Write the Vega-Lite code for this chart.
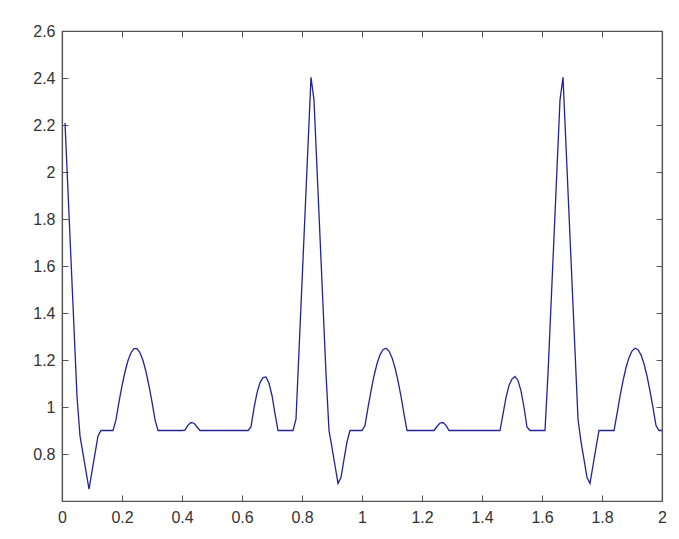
{
  "$schema": "https://vega.github.io/schema/vega-lite/v6.json",
  "width": 600,
  "height": 470,
  "autosize": "none",
  "padding": {"left": 62, "top": 31, "right": 17, "bottom": 38},
  "background": "white",
  "config": {
    "view": {"stroke": "#555555", "strokeWidth": 1.2},
    "axis": {
      "grid": false,
      "domainColor": "#555555",
      "domainWidth": 1.2,
      "tickColor": "#555555",
      "tickSize": -6,
      "labelFont": "Liberation Sans",
      "labelFontSize": 16,
      "labelColor": "#333333",
      "labelFlush": false,
      "labelOverlap": false,
      "title": null
    }
  },
  "data": {
    "values": [
      {"t": 0.01, "v": 2.209}, {"t": 0.02, "v": 1.918}, {"t": 0.03, "v": 1.627}, {"t": 0.04, "v": 1.336}, {"t": 0.05, "v": 1.045},
      {"t": 0.06, "v": 0.877}, {"t": 0.07, "v": 0.802}, {"t": 0.08, "v": 0.726}, {"t": 0.09, "v": 0.65}, {"t": 0.10, "v": 0.726},
      {"t": 0.11, "v": 0.802}, {"t": 0.12, "v": 0.877}, {"t": 0.13, "v": 0.9}, {"t": 0.14, "v": 0.9}, {"t": 0.15, "v": 0.9},
      {"t": 0.16, "v": 0.9}, {"t": 0.17, "v": 0.9}, {"t": 0.18, "v": 0.946}, {"t": 0.19, "v": 1.022}, {"t": 0.20, "v": 1.09},
      {"t": 0.21, "v": 1.15}, {"t": 0.22, "v": 1.198}, {"t": 0.23, "v": 1.231}, {"t": 0.24, "v": 1.248}, {"t": 0.25, "v": 1.248},
      {"t": 0.26, "v": 1.231}, {"t": 0.27, "v": 1.198}, {"t": 0.28, "v": 1.15}, {"t": 0.29, "v": 1.09}, {"t": 0.30, "v": 1.022},
      {"t": 0.31, "v": 0.946}, {"t": 0.32, "v": 0.9}, {"t": 0.33, "v": 0.9}, {"t": 0.34, "v": 0.9}, {"t": 0.35, "v": 0.9},
      {"t": 0.36, "v": 0.9}, {"t": 0.37, "v": 0.9}, {"t": 0.38, "v": 0.9}, {"t": 0.39, "v": 0.9}, {"t": 0.40, "v": 0.9},
      {"t": 0.41, "v": 0.902}, {"t": 0.42, "v": 0.923}, {"t": 0.43, "v": 0.934}, {"t": 0.44, "v": 0.931}, {"t": 0.45, "v": 0.915},
      {"t": 0.46, "v": 0.9}, {"t": 0.47, "v": 0.9}, {"t": 0.48, "v": 0.9}, {"t": 0.49, "v": 0.9}, {"t": 0.50, "v": 0.9},
      {"t": 0.51, "v": 0.9}, {"t": 0.52, "v": 0.9}, {"t": 0.53, "v": 0.9}, {"t": 0.54, "v": 0.9}, {"t": 0.55, "v": 0.9},
      {"t": 0.56, "v": 0.9}, {"t": 0.57, "v": 0.9}, {"t": 0.58, "v": 0.9}, {"t": 0.59, "v": 0.9}, {"t": 0.60, "v": 0.9},
      {"t": 0.61, "v": 0.9}, {"t": 0.62, "v": 0.9}, {"t": 0.63, "v": 0.915}, {"t": 0.64, "v": 0.995}, {"t": 0.65, "v": 1.06},
      {"t": 0.66, "v": 1.104}, {"t": 0.67, "v": 1.125}, {"t": 0.68, "v": 1.128}, {"t": 0.69, "v": 1.101}, {"t": 0.70, "v": 1.049},
      {"t": 0.71, "v": 0.972}, {"t": 0.72, "v": 0.9}, {"t": 0.73, "v": 0.9}, {"t": 0.74, "v": 0.9}, {"t": 0.75, "v": 0.9},
      {"t": 0.76, "v": 0.9}, {"t": 0.77, "v": 0.9}, {"t": 0.78, "v": 0.948}, {"t": 0.79, "v": 1.239}, {"t": 0.80, "v": 1.53},
      {"t": 0.81, "v": 1.821}, {"t": 0.82, "v": 2.112}, {"t": 0.83, "v": 2.403}, {"t": 0.84, "v": 2.306}, {"t": 0.85, "v": 2.015},
      {"t": 0.86, "v": 1.724}, {"t": 0.87, "v": 1.433}, {"t": 0.88, "v": 1.142}, {"t": 0.89, "v": 0.9}, {"t": 0.90, "v": 0.827},
      {"t": 0.91, "v": 0.751}, {"t": 0.92, "v": 0.675}, {"t": 0.93, "v": 0.7}, {"t": 0.94, "v": 0.777}, {"t": 0.95, "v": 0.852},
      {"t": 0.96, "v": 0.9}, {"t": 0.97, "v": 0.9}, {"t": 0.98, "v": 0.9}, {"t": 0.99, "v": 0.9}, {"t": 1.00, "v": 0.9},
      {"t": 1.01, "v": 0.921}, {"t": 1.02, "v": 0.997}, {"t": 1.03, "v": 1.068}, {"t": 1.04, "v": 1.132}, {"t": 1.05, "v": 1.184},
      {"t": 1.06, "v": 1.222}, {"t": 1.07, "v": 1.244}, {"t": 1.08, "v": 1.25}, {"t": 1.09, "v": 1.238}, {"t": 1.10, "v": 1.21},
      {"t": 1.11, "v": 1.167}, {"t": 1.12, "v": 1.111}, {"t": 1.13, "v": 1.045}, {"t": 1.14, "v": 0.971}, {"t": 1.15, "v": 0.9},
      {"t": 1.16, "v": 0.9}, {"t": 1.17, "v": 0.9}, {"t": 1.18, "v": 0.9}, {"t": 1.19, "v": 0.9}, {"t": 1.20, "v": 0.9},
      {"t": 1.21, "v": 0.9}, {"t": 1.22, "v": 0.9}, {"t": 1.23, "v": 0.9}, {"t": 1.24, "v": 0.9}, {"t": 1.25, "v": 0.917},
      {"t": 1.26, "v": 0.932}, {"t": 1.27, "v": 0.934}, {"t": 1.28, "v": 0.922}, {"t": 1.29, "v": 0.9}, {"t": 1.30, "v": 0.9},
      {"t": 1.31, "v": 0.9}, {"t": 1.32, "v": 0.9}, {"t": 1.33, "v": 0.9}, {"t": 1.34, "v": 0.9}, {"t": 1.35, "v": 0.9},
      {"t": 1.36, "v": 0.9}, {"t": 1.37, "v": 0.9}, {"t": 1.38, "v": 0.9}, {"t": 1.39, "v": 0.9}, {"t": 1.40, "v": 0.9},
      {"t": 1.41, "v": 0.9}, {"t": 1.42, "v": 0.9}, {"t": 1.43, "v": 0.9}, {"t": 1.44, "v": 0.9}, {"t": 1.45, "v": 0.9},
      {"t": 1.46, "v": 0.9}, {"t": 1.47, "v": 0.97}, {"t": 1.48, "v": 1.04}, {"t": 1.49, "v": 1.092}, {"t": 1.50, "v": 1.119},
      {"t": 1.51, "v": 1.13}, {"t": 1.52, "v": 1.113}, {"t": 1.53, "v": 1.069}, {"t": 1.54, "v": 0.999}, {"t": 1.55, "v": 0.915},
      {"t": 1.56, "v": 0.9}, {"t": 1.57, "v": 0.9}, {"t": 1.58, "v": 0.9}, {"t": 1.59, "v": 0.9}, {"t": 1.60, "v": 0.9},
      {"t": 1.61, "v": 0.9}, {"t": 1.62, "v": 1.142}, {"t": 1.63, "v": 1.433}, {"t": 1.64, "v": 1.724}, {"t": 1.65, "v": 2.015},
      {"t": 1.66, "v": 2.306}, {"t": 1.67, "v": 2.403}, {"t": 1.68, "v": 2.112}, {"t": 1.69, "v": 1.821}, {"t": 1.70, "v": 1.53},
      {"t": 1.71, "v": 1.239}, {"t": 1.72, "v": 0.948}, {"t": 1.73, "v": 0.852}, {"t": 1.74, "v": 0.777}, {"t": 1.75, "v": 0.7},
      {"t": 1.76, "v": 0.675}, {"t": 1.77, "v": 0.751}, {"t": 1.78, "v": 0.827}, {"t": 1.79, "v": 0.9}, {"t": 1.80, "v": 0.9},
      {"t": 1.81, "v": 0.9}, {"t": 1.82, "v": 0.9}, {"t": 1.83, "v": 0.9}, {"t": 1.84, "v": 0.9}, {"t": 1.85, "v": 0.971},
      {"t": 1.86, "v": 1.045}, {"t": 1.87, "v": 1.111}, {"t": 1.88, "v": 1.167}, {"t": 1.89, "v": 1.21}, {"t": 1.90, "v": 1.238},
      {"t": 1.91, "v": 1.25}, {"t": 1.92, "v": 1.244}, {"t": 1.93, "v": 1.222}, {"t": 1.94, "v": 1.184}, {"t": 1.95, "v": 1.132},
      {"t": 1.96, "v": 1.068}, {"t": 1.97, "v": 0.997}, {"t": 1.98, "v": 0.921}, {"t": 1.99, "v": 0.9}, {"t": 2.00, "v": 0.9}
    ]
  },
  "layer": [
    {
      "mark": {"type": "line", "color": "#22229a", "strokeWidth": 1.3},
      "encoding": {
        "x": {
          "field": "t", "type": "quantitative",
          "scale": {"domain": [0, 2], "nice": false, "zero": false},
          "axis": {"orient": "bottom", "values": [0, 0.2, 0.4, 0.6, 0.8, 1, 1.2, 1.4, 1.6, 1.8, 2], "format": "~g", "labelPadding": 14}
        },
        "y": {
          "field": "v", "type": "quantitative",
          "scale": {"domain": [0.6, 2.6], "nice": false, "zero": false},
          "axis": {"orient": "left", "values": [0.8, 1, 1.2, 1.4, 1.6, 1.8, 2, 2.2, 2.4, 2.6], "format": "~g", "labelPadding": 13}
        }
      }
    },
    {
      "mark": {"type": "line", "opacity": 0},
      "encoding": {
        "x": {
          "field": "t", "type": "quantitative",
          "axis": {"orient": "top", "values": [0, 0.2, 0.4, 0.6, 0.8, 1, 1.2, 1.4, 1.6, 1.8, 2], "labels": false}
        },
        "y": {
          "field": "v", "type": "quantitative",
          "axis": {"orient": "right", "values": [0.8, 1, 1.2, 1.4, 1.6, 1.8, 2, 2.2, 2.4, 2.6], "labels": false}
        }
      }
    }
  ],
  "resolve": {"axis": {"x": "independent", "y": "independent"}}
}
